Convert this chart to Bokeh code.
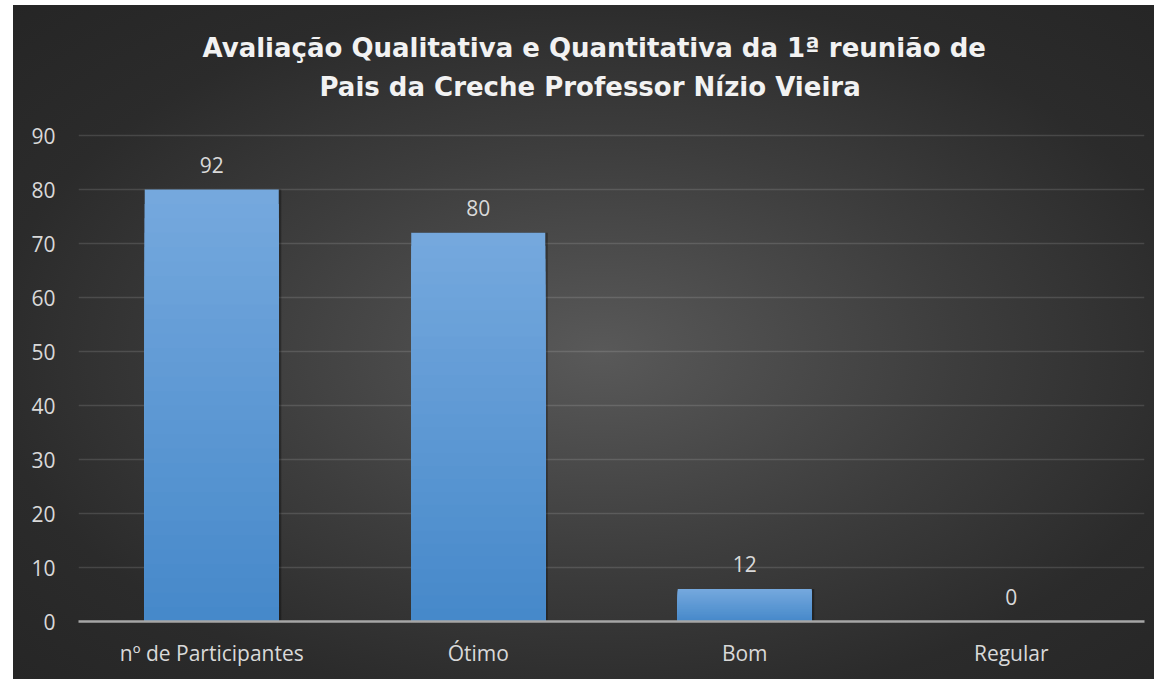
from bokeh.plotting import figure
from bokeh.models import ColumnDataSource, Title, FixedTicker
from bokeh.transform import dodge
from bokeh.core.properties import value
from bokeh.embed import file_html
from bokeh.resources import INLINE

# ---- data ----
categories = ["nº de Participantes", "Ótimo", "Bom", "Regular"]
bar_heights = [80, 72, 6, 0]          # heights as drawn
bar_labels = ["92", "80", "12", "0"]  # data labels as printed
y_ticks = [0, 10, 20, 30, 40, 50, 60, 70, 80, 90]
title_line1 = "Avaliação Qualitativa e Quantitativa da 1ª reunião de"
title_line2 = "Pais  da  Creche Professor Nízio Vieira"

FONT = "Open Sans"
TFONT = "DejaVu Sans"
TXT = "#d9d9d9"

p = figure(
    x_range=categories, y_range=(0, 96.3),
    width=1154, height=679,
    output_backend="svg", toolbar_location=None, title_location=None,
    min_border_left=78, min_border_right=10, min_border_bottom=58, min_border_top=101,
)
p.styles = {
    "background": "linear-gradient(#ffffff,#ffffff) 0 0 / 13px 100% no-repeat, "
                  "linear-gradient(#ffffff,#ffffff) 0 0 / 100% 5px no-repeat, "
                  "radial-gradient(ellipse at 52% 52%, #595959 0%, #3d3d3d 42%, #2b2b2b 72%, #252525 100%)"
}
p.background_fill_color = None
p.border_fill_color = None
p.outline_line_color = None

# titles (added nearest-first)
t2 = Title(text=title_line2, align="left", text_font=TFONT, text_font_size="26px",
           text_font_style="bold", text_color="#f2f2f2", offset=241, standoff=0)
t1 = Title(text=title_line1, align="left", text_font=TFONT, text_font_size="26px",
           text_font_style="bold", text_color="#f2f2f2", offset=124, standoff=13)
p.add_layout(t2, "above")
p.add_layout(t1, "above")

# gradient bars: overlapping layers from tallest (lightest) to shortest (darkest)
N = 30
top_c = (0x76, 0xa9, 0xde)
bot_c = (0x46, 0x89, 0xca)
seg_x, seg_t, seg_c = [], [], []
for i in reversed(range(N)):
    f = (i + 0.5) / N
    c = "#%02x%02x%02x" % tuple(int(bot_c[k] + (top_c[k] - bot_c[k]) * f) for k in range(3))
    for cat, h in zip(categories, bar_heights):
        seg_x.append(cat)
        seg_t.append(h * (i + 1) / N)
        seg_c.append(c)

src = ColumnDataSource(dict(x=categories, top=bar_heights, label=bar_labels))

# shadow
p.vbar(x=dodge("x", 0.006, range=p.x_range), top="top", bottom=-0.4, width=0.51, source=src,
       fill_color="black", fill_alpha=0.3, line_color=None)
p.vbar(x=seg_x, bottom=0, top=seg_t, width=0.503, fill_color=seg_c, line_color=None)

p.text(x="x", y="top", text="label", source=src, y_offset=-25,
       text_align="center", text_baseline="middle",
       text_font=value(FONT), text_font_size="21px", text_color=TXT)

# axes
p.yaxis.ticker = FixedTicker(ticks=y_ticks)
p.yaxis.axis_line_color = None
p.yaxis.major_tick_line_color = None
p.yaxis.major_tick_out = 0
p.yaxis.minor_tick_out = 0
p.yaxis.minor_tick_line_color = None
p.yaxis.major_label_standoff = 23
p.yaxis.major_label_text_font = FONT
p.yaxis.major_label_text_font_size = "21px"
p.yaxis.major_label_text_color = TXT

p.xaxis.axis_line_color = "#a6a6a6"
p.xaxis.axis_line_width = 2.5
p.xaxis.major_tick_line_color = None
p.xaxis.major_tick_out = 0
p.xaxis.minor_tick_out = 0
p.xaxis.minor_tick_line_color = None
p.xaxis.major_label_standoff = 17
p.xaxis.major_label_text_font = FONT
p.xaxis.major_label_text_font_size = "21px"
p.xaxis.major_label_text_color = TXT

p.xgrid.grid_line_color = None
p.ygrid.grid_line_color = "#ffffff"
p.ygrid.grid_line_alpha = 0.13
p.ygrid.grid_line_width = 1.3

open("out.html", "w").write(file_html(p, INLINE))
